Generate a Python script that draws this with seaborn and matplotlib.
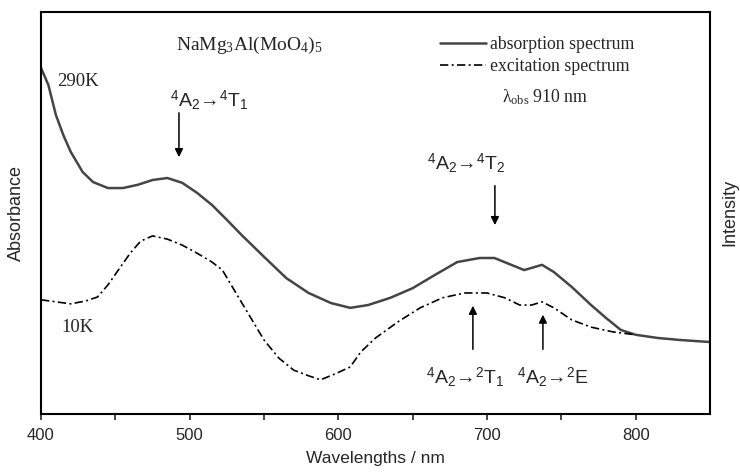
import pandas as pd
import matplotlib
matplotlib.use("Agg")
import matplotlib.pyplot as plt
import seaborn as sns

# absorption spectrum at 290K (arbitrary units)
abs_wl = [400, 405, 410, 415, 420, 428, 435, 445, 455, 465, 475, 485, 495, 505,
          515, 525, 535, 550, 565, 580, 595, 608, 620, 635, 650, 665, 680, 695,
          705, 715, 725, 737, 745, 757, 770, 780, 790, 800, 815, 830, 850]
abs_val = [0.861, 0.818, 0.744, 0.694, 0.652, 0.602, 0.577, 0.562, 0.562, 0.570,
           0.582, 0.587, 0.575, 0.550, 0.520, 0.483, 0.445, 0.391, 0.338, 0.301,
           0.276, 0.264, 0.271, 0.289, 0.313, 0.346, 0.378, 0.388, 0.388, 0.373,
           0.358, 0.371, 0.353, 0.316, 0.271, 0.239, 0.209, 0.197, 0.189, 0.184,
           0.179]

# excitation spectrum at 10K, lambda_obs = 910 nm
exc_wl = [400, 410, 420, 430, 438, 445, 452, 460, 467, 475, 485, 495, 505, 515,
          522, 530, 540, 550, 560, 570, 580, 588, 598, 608, 615, 625, 640, 655,
          670, 685, 700, 712, 722, 730, 737, 745, 757, 770, 785, 800]
exc_val = [0.284, 0.279, 0.274, 0.281, 0.291, 0.321, 0.358, 0.400, 0.430, 0.443,
           0.435, 0.420, 0.400, 0.378, 0.358, 0.308, 0.246, 0.184, 0.139, 0.109,
           0.095, 0.085, 0.100, 0.117, 0.154, 0.189, 0.229, 0.264, 0.289, 0.301,
           0.301, 0.289, 0.271, 0.271, 0.279, 0.264, 0.234, 0.216, 0.204, 0.197]

x_ticks = [400, 500, 600, 700, 800]

df_abs = pd.DataFrame({"wl": abs_wl, "val": abs_val})
df_exc = pd.DataFrame({"wl": exc_wl, "val": exc_val})

sns.set_theme(style="ticks")
plt.rcParams["font.family"] = ["Liberation Sans", "DejaVu Sans"]
plt.rcParams["mathtext.fontset"] = "custom"
plt.rcParams["mathtext.rm"] = "Liberation Serif"
plt.rcParams["mathtext.sf"] = "Liberation Sans"
plt.rcParams["mathtext.it"] = "Liberation Serif:italic"

fig = plt.figure(figsize=(7.4, 4.76), dpi=100)
ax = fig.add_axes([0.0554, 0.1303, 0.9041, 0.8445])

sns.lineplot(data=df_abs, x="wl", y="val", ax=ax, color="#454545", lw=1.8,
             label="absorption spectrum")
sns.lineplot(data=df_exc, x="wl", y="val", ax=ax, color="black", lw=1.2,
             linestyle=(0, (5, 2, 1.2, 2)), label="excitation spectrum")

ax.set_xlim(400, 850)
ax.set_ylim(0, 1)
ax.set_xticks(x_ticks)
ax.set_xticks([450, 550, 650, 750], minor=True)
ax.set_yticks([])
ax.tick_params(axis="x", which="both", direction="out", length=4, width=1.2,
               labelsize=12, pad=6)
for s in ax.spines.values():
    s.set_linewidth(1.5)
    s.set_color("black")
ax.set_xlabel("Wavelengths / nm", fontsize=12.5, labelpad=6)
ax.set_ylabel("")

fig.text(0.022, 0.553, "Absorbance", rotation=90, ha="center", va="center",
         fontsize=13)
fig.text(0.986, 0.553, "Intensity", rotation=90, ha="center", va="center",
         fontsize=13)

serif = ["Liberation Serif", "DejaVu Serif"]
leg = ax.legend(loc="upper left", bbox_to_anchor=(0.596, 0.94), frameon=False,
                borderaxespad=0, borderpad=0, handlelength=2.6,
                handletextpad=0.2, labelspacing=0.3,
                prop={"family": "Liberation Serif", "size": 12.8})

ax.text(540, 0.918, r"NaMg$_3$Al(MoO$_4$)$_5$", family=serif, fontsize=14,
        ha="center", va="center")
ax.text(739, 0.789, r"λ$_{\mathrm{obs}}$ 910 nm", family=serif,
        fontsize=12.8, ha="center", va="center")
ax.text(411, 0.826, "290K", family=serif, fontsize=13.5, ha="left", va="center")
ax.text(414, 0.214, "10K", family=serif, fontsize=13.5, ha="left", va="center")

lab = dict(fontsize=14, ha="center", va="center")
ax.text(513, 0.781, r"$^{\mathsf{4}}$A$_{\mathsf{2}}$→$^{\mathsf{4}}$T$_{\mathsf{1}}$", **lab)
ax.text(686, 0.624, r"$^{\mathsf{4}}$A$_{\mathsf{2}}$→$^{\mathsf{4}}$T$_{\mathsf{2}}$", **lab)
ax.text(685, 0.092, r"$^{\mathsf{4}}$A$_{\mathsf{2}}$→$^{\mathsf{2}}$T$_{\mathsf{1}}$", **lab)
ax.text(744, 0.092, r"$^{\mathsf{4}}$A$_{\mathsf{2}}$→$^{\mathsf{2}}$E", **lab)

arr = dict(arrowstyle="-|>", color="black", lw=1.1, mutation_scale=12)
ax.annotate("", xy=(492.8, 0.632), xytext=(492.8, 0.756), arrowprops=arr)
ax.annotate("", xy=(705.3, 0.463), xytext=(705.3, 0.575), arrowprops=arr)
ax.annotate("", xy=(690.5, 0.276), xytext=(690.5, 0.154), arrowprops=arr)
ax.annotate("", xy=(737.6, 0.254), xytext=(737.6, 0.154), arrowprops=arr)

fig.savefig("out.png", dpi=100)
